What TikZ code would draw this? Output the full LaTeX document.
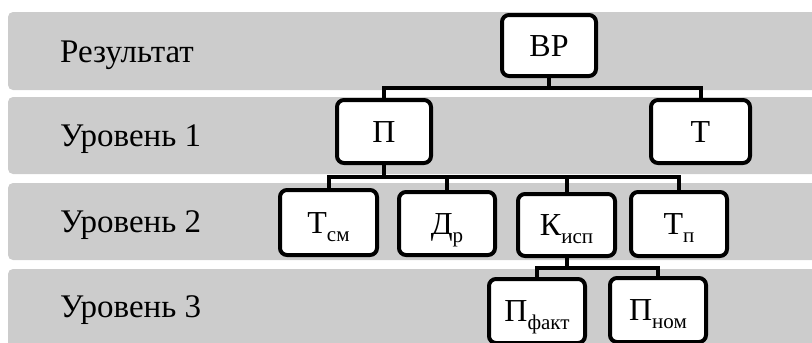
\documentclass[tikz,border=0pt]{standalone}
\usepackage{fontspec}
\newfontfamily\tnr{LiberationSerif-Regular.ttf}
\definecolor{bandgray}{RGB}{204,204,204}
\tikzset{
  band/.style={fill=bandgray, rounded corners=5pt},
  lvl/.style={anchor=west, inner sep=0pt, text height=22pt, text depth=0pt, font=\tnr\fontsize{33}{33}\selectfont},
  box/.style={draw, line width=4pt, rounded corners=7pt, fill=white, inner sep=0pt, text height=21pt, text depth=0pt, font=\tnr\fontsize{32}{32}\selectfont},
  conn/.style={line width=4pt},
}
\newcommand{\sbs}[1]{\raisebox{-8pt}{\tnr\fontsize{21}{21}\selectfont #1}}
\begin{document}
\begin{tikzpicture}[x=1pt,y=-1pt]
\useasboundingbox (0,0) rectangle (812,343);
\clip (0,0) rectangle (812,343);
% bands
\fill[band] (8,12) rectangle (830,90);
\fill[band] (8,97) rectangle (830,174);
\fill[band] (8,183) rectangle (830,260);
\fill[band] (8,269) rectangle (830,370);
% labels
\node[lvl] (l0) at (60,51) {Результат};
\node[lvl] (l1) at (60,135.5) {Уровень 1};
\node[lvl] (l2) at (60,221.5) {Уровень 2};
\node[lvl] (l3) at (60,306) {Уровень 3};
% boxes
\node[box, minimum width=94pt, minimum height=61pt] (VR) at (549,45.5) {ВР};
\node[box, minimum width=94pt, minimum height=63pt] (P) at (384,131.5) {П};
\node[box, minimum width=99pt, minimum height=63pt] (T) at (700.5,131.5) {Т};
\node[box, minimum width=97pt, minimum height=65pt] (Tsm) at (328.5,222.5) {Т\sbs{см}};
\node[box, minimum width=96pt, minimum height=63pt] (Dr) at (447,223.5) {Д\sbs{р}};
\node[box, minimum width=97pt, minimum height=62pt] (Kisp) at (566.5,225) {К\sbs{исп}};
\node[box, minimum width=96pt, minimum height=64pt] (Tp) at (679,224) {Т\sbs{п}};
\node[box, minimum width=96pt, minimum height=64pt] (Pf) at (537,311) {П\sbs{факт}};
\node[box, minimum width=96pt, minimum height=64pt] (Pn) at (658,310) {П\sbs{ном}};
% junctions
\coordinate (j1) at (549,88);
\coordinate (j2) at (384,177);
\coordinate (j3) at (566.5,268);
% connectors
\draw[conn] (VR.south) -- (j1);
\draw[conn] (P.north) |- (j1) -| (T.north);
\draw[conn] (P.south) -- (j2);
\draw[conn] (Tsm.north) |- (j2) -| (Tp.north);
\draw[conn] (Dr.north) -- (Dr.north |- j2);
\draw[conn] (Kisp.north) -- (Kisp.north |- j2);
\draw[conn] (Kisp.south) -- (j3);
\draw[conn] (Pf.north) |- (j3) -| (Pn.north);
\end{tikzpicture}
\end{document}
